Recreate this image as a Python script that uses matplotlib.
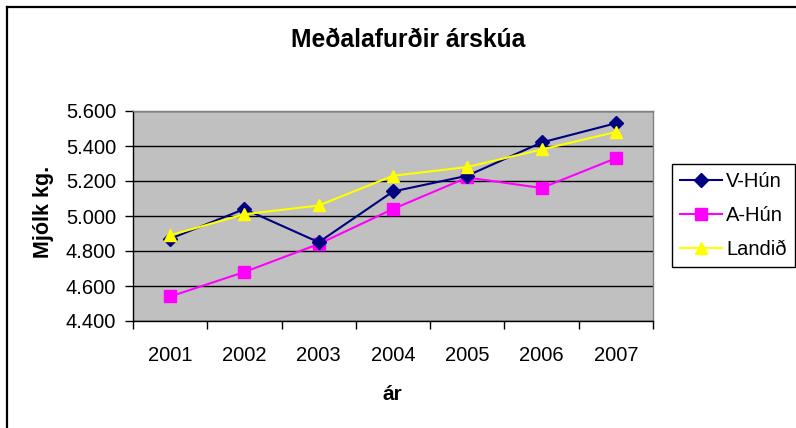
import matplotlib
matplotlib.use("Agg")
import matplotlib.pyplot as plt
from matplotlib.lines import Line2D
from matplotlib.ticker import FuncFormatter, FixedLocator

plt.rcParams["font.family"] = ["Liberation Sans", "DejaVu Sans"]

ar = ["2001", "2002", "2003", "2004", "2005", "2006", "2007"]
v_hun = [4870, 5040, 4850, 5140, 5230, 5420, 5530]
a_hun = [4540, 4680, 4840, 5040, 5220, 5160, 5330]
landid = [4890, 5010, 5060, 5230, 5280, 5380, 5480]

W, H = 796, 428
fig = plt.figure(figsize=(W / 100, H / 100), dpi=100)
fig.patch.set_facecolor("white")

# ramminn (bara efri/vinstri sýnilegur)
fig.add_artist(Line2D([7 / W, 7 / W], [0, 1 - 7 / H], color="black", lw=1.6))
fig.add_artist(Line2D([7 / W, 1], [1 - 7 / H, 1 - 7 / H], color="black", lw=1.6))

ax = fig.add_axes([133 / W, 1 - 321 / H, (653 - 133) / W, (321 - 111) / H])
ax.set_facecolor("#C0C0C0")

x = list(range(len(ar)))
ax.plot(x, v_hun, color="#000080", lw=1.5, marker="D", ms=7,
        mec="#000080", mfc="#000080", label="V-Hún", zorder=4)
ax.plot(x, a_hun, color="#FF00FF", lw=1.5, marker="s", ms=8,
        mec="#FF00FF", mfc="#FF00FF", label="A-Hún", zorder=3)
ax.plot(x, landid, color="#FFFF00", lw=1.5, marker="^", ms=9,
        mec="#FFFF00", mfc="#FFFF00", label="Landið", zorder=5)

ax.set_xlim(-0.5, len(ar) - 0.5)
ax.set_ylim(4400, 5600)
ax.set_yticks(range(4400, 5601, 200))
ax.yaxis.set_major_formatter(FuncFormatter(lambda v, p: f"{v / 1000:.3f}"))
ax.yaxis.grid(True, color="black", lw=1)
ax.set_axisbelow(True)

# merki milli flokka, ártöl í miðju
ax.xaxis.set_major_locator(FixedLocator([i - 0.5 for i in range(len(ar) + 1)]))
ax.xaxis.set_major_formatter(FuncFormatter(lambda v, p: ""))
ax.xaxis.set_minor_locator(FixedLocator(x))
ax.set_xticklabels(ar, minor=True)
ax.tick_params(axis="x", which="minor", length=0, labelsize=14.5, pad=18)
ax.tick_params(axis="x", which="major", length=6, width=1, color="black")
ax.tick_params(axis="y", length=6, width=1, labelsize=14.5, pad=6)

for s in ["top", "right"]:
    ax.spines[s].set_color("#808080")
    ax.spines[s].set_linewidth(1)
for s in ["left", "bottom"]:
    ax.spines[s].set_color("black")
    ax.spines[s].set_linewidth(1)

fig.text(408 / W, 1 - 40 / H, "Meðalafurðir árskúa", ha="center", va="center",
         fontsize=17.7, fontweight="bold")
fig.text(43 / W, 1 - 212 / H, "Mjólk kg.", ha="center", va="center",
         rotation=90, fontsize=15.5, fontweight="bold")
fig.text(392 / W, 1 - 395 / H, "ár", ha="center", va="center",
         fontsize=15, fontweight="bold")

leg = fig.legend(loc="upper left", bbox_to_anchor=(672 / W, 1 - 164 / H),
                 borderaxespad=0, fontsize=14.5, frameon=True, fancybox=False,
                 edgecolor="black", framealpha=1, handlelength=2.1,
                 handletextpad=0.2, labelspacing=0.75, borderpad=0.4)
leg.get_frame().set_linewidth(1)

fig.savefig("out.png", dpi=100, facecolor="white")
